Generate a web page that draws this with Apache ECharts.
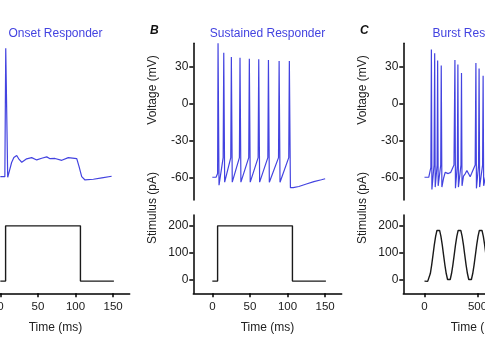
<!DOCTYPE html>
<html><head><meta charset="utf-8">
<script src="https://cdn.jsdelivr.net/npm/echarts@6/dist/echarts.min.js"></script>
<style>html,body{margin:0;padding:0;background:#fff}#c{width:485px;height:360px}</style>
</head><body><div id="c"></div><script>
// ---- data ----
const titles = ['Onset Responder', 'Sustained Responder', 'Burst Responder'];
const panelLetters = ['A', 'B', 'C'];
const ticksTimeAB = [0, 50, 100, 150];
const ticksTimeC = [0, 500, 1000];
const ticksVolt = [-60, -30, 0, 30];
const ticksStim = [0, 100, 200];

// Panel A voltage (ms, mV)
const timeA = [0, 6, 7.2, 9.8, 12, 15, 18, 21.8, 25, 28.5, 35, 41.7, 48.4, 55, 61.7, 66.1, 72.7, 81.7, 90.4, 101.6, 104.7, 108.2, 112.6, 123.7, 135, 148];
const voltA = [-59.5, -59.5, 45, -60, -55, -48, -44, -42.3, -45.5, -47.8, -45, -44, -45.9, -44.5, -43.4, -44.9, -44.7, -46.2, -44, -44.9, -51.4, -59.5, -62.2, -61.6, -60.5, -59.2];

// Panel B voltage (ms, mV)
const timeB = [0, 5, 7, 7.6, 8.9, 14.4, 15.2, 16.4, 24.5, 25.3, 26.5, 36, 36.8, 38, 48.4, 49.2, 50.4, 60.9, 61.7, 62.9, 73.8, 74.6, 75.8, 88, 88.8, 90, 101.6, 102.4, 103.8, 107.5, 115, 125, 135, 145, 150];
const voltB = [-60, -60, -57, 49, -66.5, -44, 41.4, -64, -44, 37.9, -64, -44, 37.3, -64, -44, 36.5, -64, -44, 36, -64, -44, 35.4, -64, -44, 34.6, -64, -44, 34.6, -68.5, -68.5, -67.5, -65.5, -63.5, -62, -61.2];

// Panel C voltage (ms, mV)
const timeC = [0, 40, 52, 60, 65, 70, 90, 96, 101, 119, 124, 129, 153, 158, 164, 180, 195, 211, 224, 236, 248, 258, 278, 287, 292, 310, 315, 320, 344, 349, 354, 368, 385, 400, 415, 431, 444, 456, 478, 485, 490, 510, 515, 520, 548, 553, 558, 575, 600];
const voltC = [-60, -60, -61, -52, 44, -70, -50, 41, -68, -50, 35, -67, -50, 31, -68, -60.8, -56, -54.5, -57, -58.5, -56, -55, -50, 35.4, -69, -50, 31.8, -68, -50, 24.8, -67, -59, -57, -54.6, -57, -59.6, -57, -55.4, -50, 33, -69, -50, 28.4, -68, -50, 22.5, -67, -60, -55];

// Stimulus A/B (ms, pA)
const stimTimeAB = [0, 7, 7, 106.5, 106.5, 151];
const stimAB = [-4, -4, 200, 200, -4, -4];

// Stimulus C (ms, pA)
const stimTimeC = [0, 30, 42.5, 55, 67.5, 80, 92.5, 105, 117.5, 130, 142.5, 155, 167.5, 180, 192.5, 205, 217.5, 230, 242.5, 255, 267.5, 280, 292.5, 305, 317.5, 330, 342.5, 355, 367.5, 380, 392.5, 405, 417.5, 430, 442.5, 455, 467.5, 480, 492.5, 505, 517.5, 530, 542.5, 555, 567.5, 580, 592.5, 605, 617.5, 630];
const stimC = [-4, -5, 2, 24, 55, 92, 130, 161, 183, 190, 183, 161, 130, 92, 55, 24, 2, -5, 2, 24, 55, 92, 130, 161, 183, 190, 183, 161, 130, 92, 55, 24, 2, -5, 2, 24, 55, 92, 130, 161, 183, 190, 183, 161, 130, 92, 55, 24, 2, -5];

// ---- layout / style ----
const BLUE = '#4343e0';
const FONT = "'Liberation Sans', Arial, Helvetica, sans-serif";
const panelLeft = [-18.7, 193.3, 403.3];
const gridW = 148.4;
const vTop = 43.3, vH = 156.7, sTop = 215, sH = 78.3;
const xRanges = [[-25.3, 172], [-25.3, 172], [-200, 1200]];
const xTicks = [ticksTimeAB, ticksTimeAB, ticksTimeC];

const zip = (a, b) => a.map((v, i) => [v, b[i]]);
const axisLineStyle = {color: '#000', width: 1.5};

const grids = [], xAxes = [], yAxes = [], series = [], graphics = [];
const volts = [zip(timeA, voltA), zip(timeB, voltB), zip(timeC, voltC)];
const stims = [zip(stimTimeAB, stimAB), zip(stimTimeAB, stimAB), zip(stimTimeC, stimC)];

for (let p = 0; p < 3; p++) {
  const L = panelLeft[p];
  grids.push({left: L, top: vTop, width: gridW, height: vH, containLabel: false, outerBoundsMode: 'none'});
  grids.push({left: L, top: sTop, width: gridW, height: sH, containLabel: false, outerBoundsMode: 'none'});
  const gv = p * 2, gs = p * 2 + 1;
  xAxes.push({type: 'value', gridIndex: gv, min: xRanges[p][0], max: xRanges[p][1], show: false});
  xAxes.push({type: 'value', gridIndex: gs, min: xRanges[p][0], max: xRanges[p][1],
    axisLine: {show: true, onZero: false, lineStyle: axisLineStyle},
    axisTick: {show: true, length: 4, customValues: xTicks[p], lineStyle: axisLineStyle},
    axisLabel: {customValues: xTicks[p], fontSize: 11.5, color: '#1a1a1a', margin: 8, fontFamily: FONT},
    splitLine: {show: false}});
  yAxes.push({type: 'value', gridIndex: gv, min: -78.5, max: 49,
    axisLine: {show: true, onZero: false, lineStyle: axisLineStyle},
    axisTick: {show: true, length: 4, customValues: ticksVolt, lineStyle: axisLineStyle},
    axisLabel: {customValues: ticksVolt, fontSize: 12, color: '#1a1a1a', margin: 5, fontFamily: FONT},
    splitLine: {show: false}});
  yAxes.push({type: 'value', gridIndex: gs, min: -49, max: 240,
    axisLine: {show: true, onZero: false, lineStyle: axisLineStyle},
    axisTick: {show: true, length: 4, customValues: ticksStim, lineStyle: axisLineStyle},
    axisLabel: {customValues: ticksStim, fontSize: 12, color: '#1a1a1a', margin: 5, fontFamily: FONT},
    splitLine: {show: false}});
  series.push({type: 'line', xAxisIndex: gv, yAxisIndex: gv, data: volts[p], showSymbol: false,
    lineStyle: {color: BLUE, width: 1.2}, animation: false, silent: true});
  series.push({type: 'line', xAxisIndex: gs, yAxisIndex: gs, data: stims[p], showSymbol: false,
    lineStyle: {color: '#1a1a1a', width: 1.4}, animation: false, silent: true});

  const cx = L + gridW / 2;
  graphics.push({type: 'text', x: cx, y: 33.5, style: {text: titles[p], fill: BLUE, font: '12px ' + FONT, align: 'center', verticalAlign: 'middle', textAlign: 'center', textVerticalAlign: 'middle'}});
  graphics.push({type: 'text', x: L - 39, y: 31, style: {text: panelLetters[p], fill: '#111', font: 'italic bold 12px ' + FONT, align: 'center', verticalAlign: 'middle', textAlign: 'center', textVerticalAlign: 'middle'}});
  graphics.push({type: 'text', x: L - 41, y: 90, rotation: Math.PI / 2, style: {text: 'Voltage (mV)', fill: '#222', font: '12px ' + FONT, align: 'center', verticalAlign: 'middle', textAlign: 'center', textVerticalAlign: 'middle'}});
  graphics.push({type: 'text', x: L - 41, y: 208, rotation: Math.PI / 2, style: {text: 'Stimulus (pA)', fill: '#222', font: '12px ' + FONT, align: 'center', verticalAlign: 'middle', textAlign: 'center', textVerticalAlign: 'middle'}});
  graphics.push({type: 'text', x: cx, y: 327.7, style: {text: 'Time (ms)', fill: '#222', font: '12px ' + FONT, align: 'center', verticalAlign: 'middle', textAlign: 'center', textVerticalAlign: 'middle'}});
}

const chart = echarts.init(document.getElementById('c'), null, {renderer: 'canvas', width: 485, height: 360});
chart.setOption({
  animation: false,
  backgroundColor: '#fff',
  grid: grids, xAxis: xAxes, yAxis: yAxes, series: series,
  graphic: graphics
});
</script></body></html>
